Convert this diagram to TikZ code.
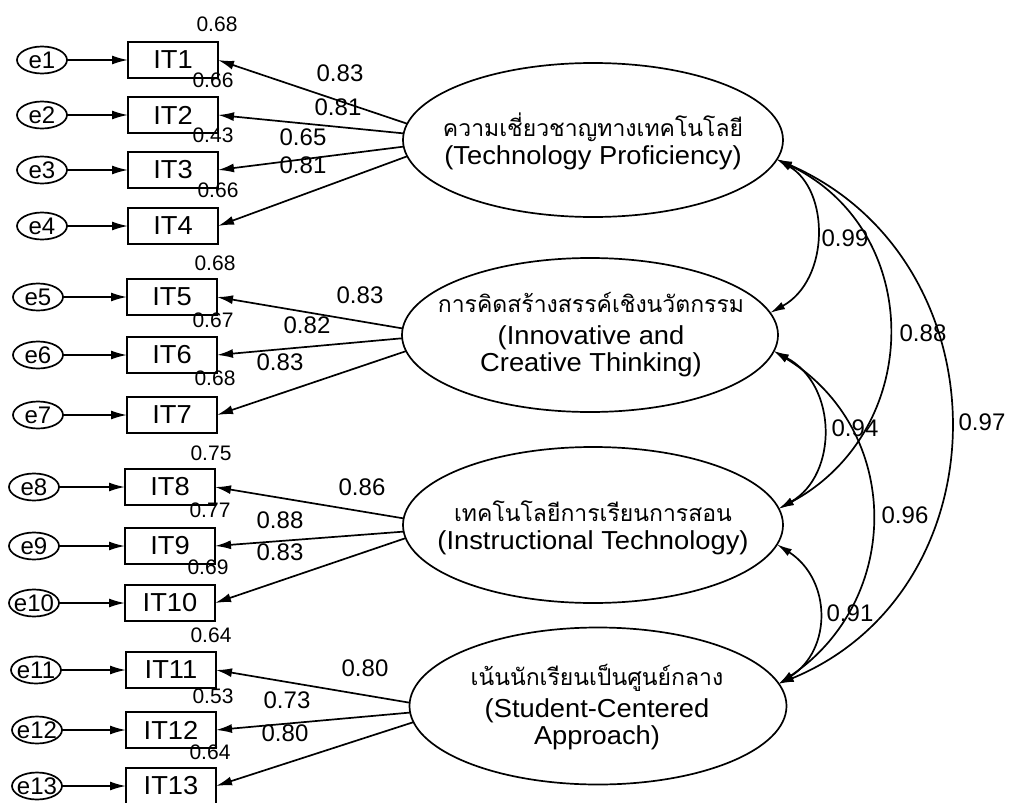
\documentclass[tikz,border=0pt]{standalone}
\usepackage{fontspec}
\setmainfont{Liberation Sans}
\newfontfamily\widesans[FakeStretch=1.05]{Liberation Sans}
\newfontfamily\thaifont[Script=Thai]{Loma}
\usetikzlibrary{arrows.meta,shapes.geometric}

\begin{document}
\begin{tikzpicture}[x=1pt,y=-1pt,
  every node/.style={inner sep=0pt, outer sep=0pt},
  obs/.style={draw, line width=1.7pt, minimum width=90pt, minimum height=36pt,
              font=\widesans\fontsize{26}{26}\selectfont},
  err/.style={draw, ellipse, line width=1.7pt, minimum width=50pt, minimum height=27pt},
  errtxt/.style={font=\fontsize{24}{24}\selectfont},
  lat/.style={draw, ellipse, line width=1.7pt},
  lattxt/.style={align=center, font=\widesans\fontsize{26}{27}\selectfont},
  thaitxt/.style={font=\thaifont\fontsize{23}{27}\selectfont},
  coef/.style={font=\fontsize{24}{24}\selectfont},
  rsq/.style={font=\fontsize{21}{21}\selectfont},
  arr/.style={line width=1.7pt, -{Latex[length=16pt,width=9pt]}},
  cov/.style={line width=1.7pt, {Latex[length=15pt,width=8pt]}-{Latex[length=15pt,width=8pt]}},
]
\useasboundingbox (0,0) rectangle (1010,803);

% indicators with their error terms
\foreach \n/\x/\y/\ex in {1/173/60/42, 2/173/115/42, 3/173/170/42, 4/173/226/42,
                          5/172/297/38, 6/172/355/38, 7/172/415/38,
                          8/170/487/34, 9/170/546/34, 10/170/603/34,
                          11/171/670/36, 12/171/730/37, 13/171/786/37} {
  \node[obs] (IT\n) at (\x,\y) {IT\n};
  \node[err] (e\n) at (\ex,\y) {};
  \node[errtxt] (et\n) at (\ex,\y) {e\n};
  \draw[arr] (e\n) -- (IT\n);
}

% squared multiple correlations
\foreach \n/\x/\y/\v in {1/217/24/0.68, 2/213/80/0.66, 3/213/135/0.43, 4/218/190/0.66,
                         5/215/263/0.68, 6/213/320/0.67, 7/215/378/0.68,
                         8/211/453/0.75, 9/210/510/0.77, 10/208/567/0.69,
                         11/211/635/0.64, 12/213/696/0.53, 13/210/752/0.64} {
  \node[rsq] (r\n) at (\x,\y) {\v};
}

% latent factors: outline, Thai name, English name
\node[lat, minimum width=380pt, minimum height=154pt] (F1) at (593,140) {};
\node[thaitxt] (F1a) at (593,127) {ความเชี่ยวชาญทางเทคโนโลยี};
\node[lattxt] (F1b) at (593,158) {(Technology Proficiency)};

\node[lat, minimum width=376pt, minimum height=154pt] (F2) at (590,335) {};
\node[thaitxt] (F2a) at (591,302) {การคิดสร้างสรรค์เชิงนวัตกรรม};
\node[lattxt] (F2b) at (591,351) {(Innovative and\\Creative Thinking)};

\node[lat, minimum width=380pt, minimum height=156pt] (F3) at (593,525) {};
\node[thaitxt] (F3a) at (593,511) {เทคโนโลยีการเรียนการสอน};
\node[lattxt] (F3b) at (593,543) {(Instructional Technology)};

\node[lat, minimum width=377pt, minimum height=157pt] (F4) at (598,706) {};
\node[thaitxt] (F4a) at (597,678) {เน้นนักเรียนเป็นศูนย์กลาง};
\node[lattxt] (F4b) at (597,724) {(Student-Centered\\Approach)};

% factor loadings
\foreach \f/\a/\i in {1/175/1, 1/178/2, 1/182/3, 1/185/4,
                      2/178/5, 2/181/6, 2/185/7,
                      3/178/8, 3/182/9, 3/184/10,
                      4/179/11, 4/182/12, 4/185/13} {
  \draw[arr] (F\f.\a) -- (IT\i.east);
}
\foreach \n/\x/\y/\v in {1/340/73/0.83, 2/338/107/0.81, 3/303/137/0.65, 4/303/165/0.81,
                         5/360/295/0.83, 6/307/325/0.82, 7/280/362/0.83,
                         8/362/487/0.86, 9/280/520/0.88, 10/280/552/0.83,
                         11/365/668/0.80, 12/287/700/0.73, 13/285/733/0.80} {
  \node[coef] (l\n) at (\x,\y) {\v};
}

% factor correlations
\draw[cov] (F1.354) .. controls (830,190) and (830,280) .. (F2.7);
\draw[cov] (F1.354) .. controls (925,230) and (925,430) .. (F3.5);
\draw[cov] (F1.354) .. controls (1007,260) and (1007,590) .. (F4.7);
\draw[cov] (F2.355) .. controls (838,385) and (838,475) .. (F3.5);
\draw[cov] (F2.355) .. controls (903,430) and (903,600) .. (F4.7);
\draw[cov] (F3.354) .. controls (832,580) and (832,650) .. (F4.7);

\node[coef] (c12) at (845,238) {0.99};
\node[coef] (c13) at (923,333) {0.88};
\node[coef] (c14) at (982,422) {0.97};
\node[coef] (c23) at (855,428) {0.94};
\node[coef] (c24) at (905,515) {0.96};
\node[coef] (c34) at (850,613) {0.91};
\end{tikzpicture}
\end{document}
